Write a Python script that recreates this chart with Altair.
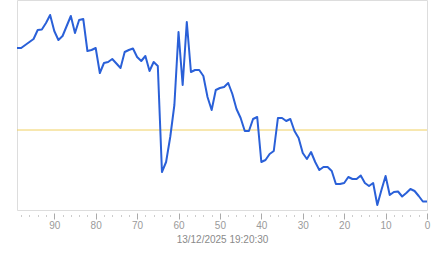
import altair as alt
import pandas as pd

ages = list(range(99, -1, -1))
values = [162, 162, 165, 168, 171, 180, 180.5, 187, 195, 179,
          170, 174, 184, 194, 177, 190, 191, 159, 160, 162,
          137, 147, 148, 151, 146.5, 142, 158, 160, 161.5, 153,
          149, 154, 139, 148, 144, 38, 48, 73, 105, 178,
          125, 188, 138, 140, 140, 134, 113, 100, 120, 122,
          123, 127, 116, 101, 92, 79, 79, 91, 93, 48,
          50, 56, 59, 92, 92, 89, 91, 79, 72, 57,
          51, 58, 48, 40, 43, 43, 39, 26, 26, 27,
          33, 31, 31, 34.5, 27, 24, 27, 5, 20, 34,
          15, 18, 18.5, 13.5, 17, 21, 19, 14, 8.5, 8.5]
threshold = [80]
major_ticks = [90, 80, 70, 60, 50, 40, 30, 20, 10, 0]
minor_ticks = [98, 96, 94, 92, 88, 86, 84, 82, 78, 76, 74, 72, 68, 66, 64, 62,
               58, 56, 54, 52, 48, 46, 44, 42, 38, 36, 34, 32, 28, 26, 24, 22,
               18, 16, 14, 12, 8, 6, 4, 2]
title_text = "13/12/2025 19:20:30"

df = pd.DataFrame({"age": ages, "value": values})
tdf = pd.DataFrame({"t": threshold})

xscale = alt.Scale(domain=[99, 0], nice=False, zero=False)
yscale = alt.Scale(domain=[0, 210], nice=False, zero=False)
FONT = "Liberation Sans"

line = alt.Chart(df).mark_line(color="#2a60d8", strokeWidth=2, strokeJoin="round").encode(
    x=alt.X("age:Q", scale=xscale,
            axis=alt.Axis(values=major_ticks, orient="bottom", domain=False, grid=False,
                          tickSize=6, offset=3, tickColor="#aaaaaa", tickWidth=1,
                          labelFont=FONT, labelFontSize=10, labelColor="#9a9a9a",
                          labelPadding=1, labelFlush=False,
                          title=title_text, titleFont=FONT, titleFontSize=10,
                          titleFontWeight="normal", titleColor="#8a8a8a", titlePadding=4)),
    y=alt.Y("value:Q", scale=yscale, axis=None),
)

minor = alt.Chart(df).mark_point(opacity=0).encode(
    x=alt.X("age:Q", scale=xscale,
            axis=alt.Axis(values=minor_ticks, orient="bottom", domain=False, grid=False,
                          labels=False, title=None, tickSize=1, offset=5,
                          tickColor="#999999", tickWidth=1)),
    y=alt.Y("value:Q", scale=yscale, axis=None),
)

rule = alt.Chart(tdf).mark_rule(color="#f0d060", strokeWidth=1).encode(
    y=alt.Y("t:Q", scale=yscale, axis=None),
)

chart = alt.layer(rule, line, minor).resolve_axis(x="independent").properties(
    width=410, height=210,
    autosize=alt.AutoSizeParams(type="none"),
    padding={"left": 17, "top": 0, "right": 16, "bottom": 48},
).configure_view(stroke=None).configure(background="white")

chart.save("out.html", embed_options={"renderer": "svg", "actions": False})
